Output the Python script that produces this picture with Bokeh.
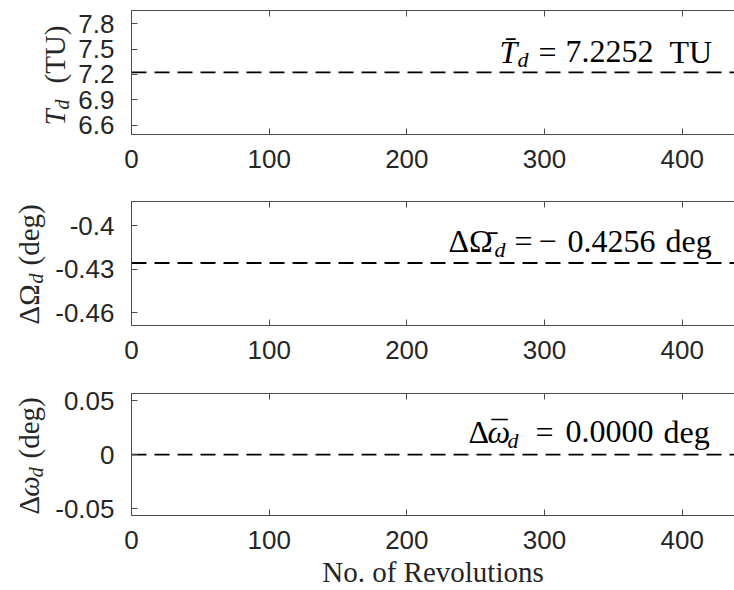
from bokeh.plotting import figure
from bokeh.models import LinearAxis, FixedTicker, Label, CustomJSTickFormatter
from bokeh.layouts import column, row
from bokeh.embed import file_html
from bokeh.resources import INLINE

# ---------------- data ----------------
revolutions = [0, 438]                      # span of the run (No. of Revolutions)
x_ticks = [0, 100, 200, 300, 400]
x_tick_labels = ["0", "100", "200", "300", "400"]

T_mean = 7.2252          # TU
Omega_mean = -0.4256     # deg
omega_mean = 0.0000      # deg

T_ylim = [6.494, 7.953]
Omega_ylim = [-0.4688, -0.3831]
omega_ylim = [-0.0564, 0.0566]

T_ticks = [6.6, 6.9, 7.2, 7.5, 7.8]
T_tick_labels = ["6.6", "6.9", "7.2", "7.5", "7.8"]
Omega_ticks = [-0.46, -0.43, -0.4]
Omega_tick_labels = ["-0.46", "-0.43", "-0.4"]
omega_ticks = [-0.05, 0.0, 0.05]
omega_tick_labels = ["-0.05", "0", "0.05"]

x_label = "No. of Revolutions"

# ---------------- style ----------------
SANS = "Liberation Sans"
SERIF = "Liberation Serif"
AX = "#4a4a4a"
TXT = "#262626"
MID = 0.3375   # distance baseline -> middle of text box, in em
FH = 124       # frame height of every panel


def sign(v):
    return "\u2212" if v < 0 else ""


def num(v):
    return f"{abs(v):.4f}"


def tick_formatter(ticks, labels):
    return CustomJSTickFormatter(
        args=dict(tk=list(ticks), lb=list(labels)),
        code="const i = tk.findIndex(t => Math.abs(t - tick) < 1e-9); return i >= 0 ? lb[i] : '';",
    )


def style_axis(ax):
    ax.major_tick_in = 6
    ax.major_tick_out = 0
    ax.minor_tick_line_color = None
    ax.axis_line_color = AX
    ax.major_tick_line_color = AX
    ax.major_label_text_font = SANS
    ax.major_label_text_font_size = "26px"
    ax.major_label_text_color = TXT


def make_panel(h, W, top, bottom, ylim, yticks, ylabels, mean, ann):
    p = figure(width=734 - W, height=h, x_range=(revolutions[0], revolutions[-1]),
               y_range=(ylim[0], ylim[1]), output_backend="svg", toolbar_location=None,
               min_border_left=131 - W, min_border_right=0, min_border_top=top,
               min_border_bottom=bottom)
    p.grid.visible = False
    p.outline_line_color = None
    p.background_fill_color = "white"
    p.border_fill_color = "white"

    xa = p.xaxis[0]
    style_axis(xa)
    xa.ticker = FixedTicker(ticks=x_ticks)
    xa.formatter = tick_formatter(x_ticks, x_tick_labels)
    xa.major_label_standoff = 15

    ya = p.yaxis[0]
    style_axis(ya)
    ya.ticker = FixedTicker(ticks=yticks)
    ya.formatter = tick_formatter(yticks, ylabels)
    ya.major_label_standoff = 17

    topax = LinearAxis(ticker=FixedTicker(ticks=x_ticks))
    style_axis(topax)
    topax.formatter = CustomJSTickFormatter(code="return '';")
    topax.major_label_standoff = 0
    p.add_layout(topax, "above")

    p.line(x=revolutions, y=[mean, mean], line_color="black", line_width=1.8,
           line_dash="15 8")

    # value annotation, built from pieces (symbol, subscript, value, unit)
    for text, style, size, dx, base in ann:
        p.add_layout(Label(x=revolutions[-1], y=mean, text=text, x_offset=dx,
                           y_offset=base + MID * size,
                           text_font=SERIF, text_font_style=style,
                           text_font_size=f"{size}px", text_color="black",
                           text_align="left", text_baseline="middle"))
    return p, xa


def make_ylabel(w, h, top, bottom, pieces):
    # frame of this helper figure is aligned with the panel frame; data = pixels
    q = figure(width=w, height=h, x_range=(0, w), y_range=(top + FH, top),
               x_axis_location=None, y_axis_location=None,
               output_backend="svg", toolbar_location=None,
               min_border_left=0, min_border_right=0, min_border_top=top,
               min_border_bottom=bottom)
    q.grid.visible = False
    q.outline_line_color = None
    q.border_fill_color = "white"
    q.background_fill_color = "white"
    for text, style, size, bx, sy in pieces:
        q.add_layout(Label(x=bx - MID * size, y=sy, text=text, angle=90, angle_units="deg",
                           text_font=SERIF, text_font_style=style,
                           text_font_size=f"{size}px", text_color=TXT,
                           text_align="left", text_baseline="middle"))
    return q


# ---- panel 1: T_d ----
W1 = 75
p1, _ = make_panel(
    190, W1, 10, 56, T_ylim, T_ticks, T_tick_labels, T_mean,
    [("T\u0304", "italic", 32, -235, 10), ("d", "italic", 22, -217, 5),
     ("=", "normal", 32, -196, 10), (sign(T_mean) + num(T_mean), "normal", 32, -169, 10),
     ("TU", "normal", 32, -65, 10)],
)
l1 = make_ylabel(W1, 190, 10, 56, [("T", "italic", 29, 64, 125), ("d", "italic", 20, 68, 109),
                                   ("(TU)", "normal", 29, 64, 83)])

# ---- panel 2: Delta Omega_d ----
W2 = 50
p2, _ = make_panel(
    191, W2, 11, 56, Omega_ylim, Omega_ticks, Omega_tick_labels, Omega_mean,
    [("\u0394\u03A9\u0304", "normal", 32, -286, 11), ("d", "italic", 22, -240, 6),
     ("=", "normal", 32, -220, 11), (sign(Omega_mean), "normal", 32, -196, 11),
     (num(Omega_mean), "normal", 32, -167, 11), ("deg", "normal", 32, -69, 11)],
)
l2 = make_ylabel(W2, 191, 11, 56, [("\u0394\u03A9", "normal", 29, 38, 134),
                                   ("d", "italic", 20, 42, 93),
                                   ("(deg)", "normal", 29, 38, 75)])

# ---- panel 3: Delta omega_d ----
p3, xa3 = make_panel(
    209, W2, 12, 73, omega_ylim, omega_ticks, omega_tick_labels, omega_mean,
    [("\u0394", "normal", 32, -266, 12), ("\u03C9", "italic", 32, -247, 12),
     ("\u00AF", "normal", 32, -243, 12),
     ("d", "italic", 22, -227, 7), ("=", "normal", 32, -199, 12),
     (sign(omega_mean) + num(omega_mean), "normal", 32, -169, 12),
     ("deg", "normal", 32, -71, 12)],
)
xa3.axis_label = x_label
xa3.axis_label_text_font = SERIF
xa3.axis_label_text_font_style = "normal"
xa3.axis_label_text_font_size = "29px"
xa3.axis_label_text_color = TXT
xa3.axis_label_standoff = 4
l3 = make_ylabel(W2, 209, 12, 73, [("\u0394", "normal", 29, 38, 135),
                                   ("\u03C9", "italic", 29, 38, 117),
                                   ("d", "italic", 20, 42, 97),
                                   ("(deg)", "normal", 29, 38, 78)])

layout = column(row(l1, p1, spacing=0), row(l2, p2, spacing=0), row(l3, p3, spacing=0),
                spacing=0)
open("out.html", "w").write(file_html(layout, INLINE))
